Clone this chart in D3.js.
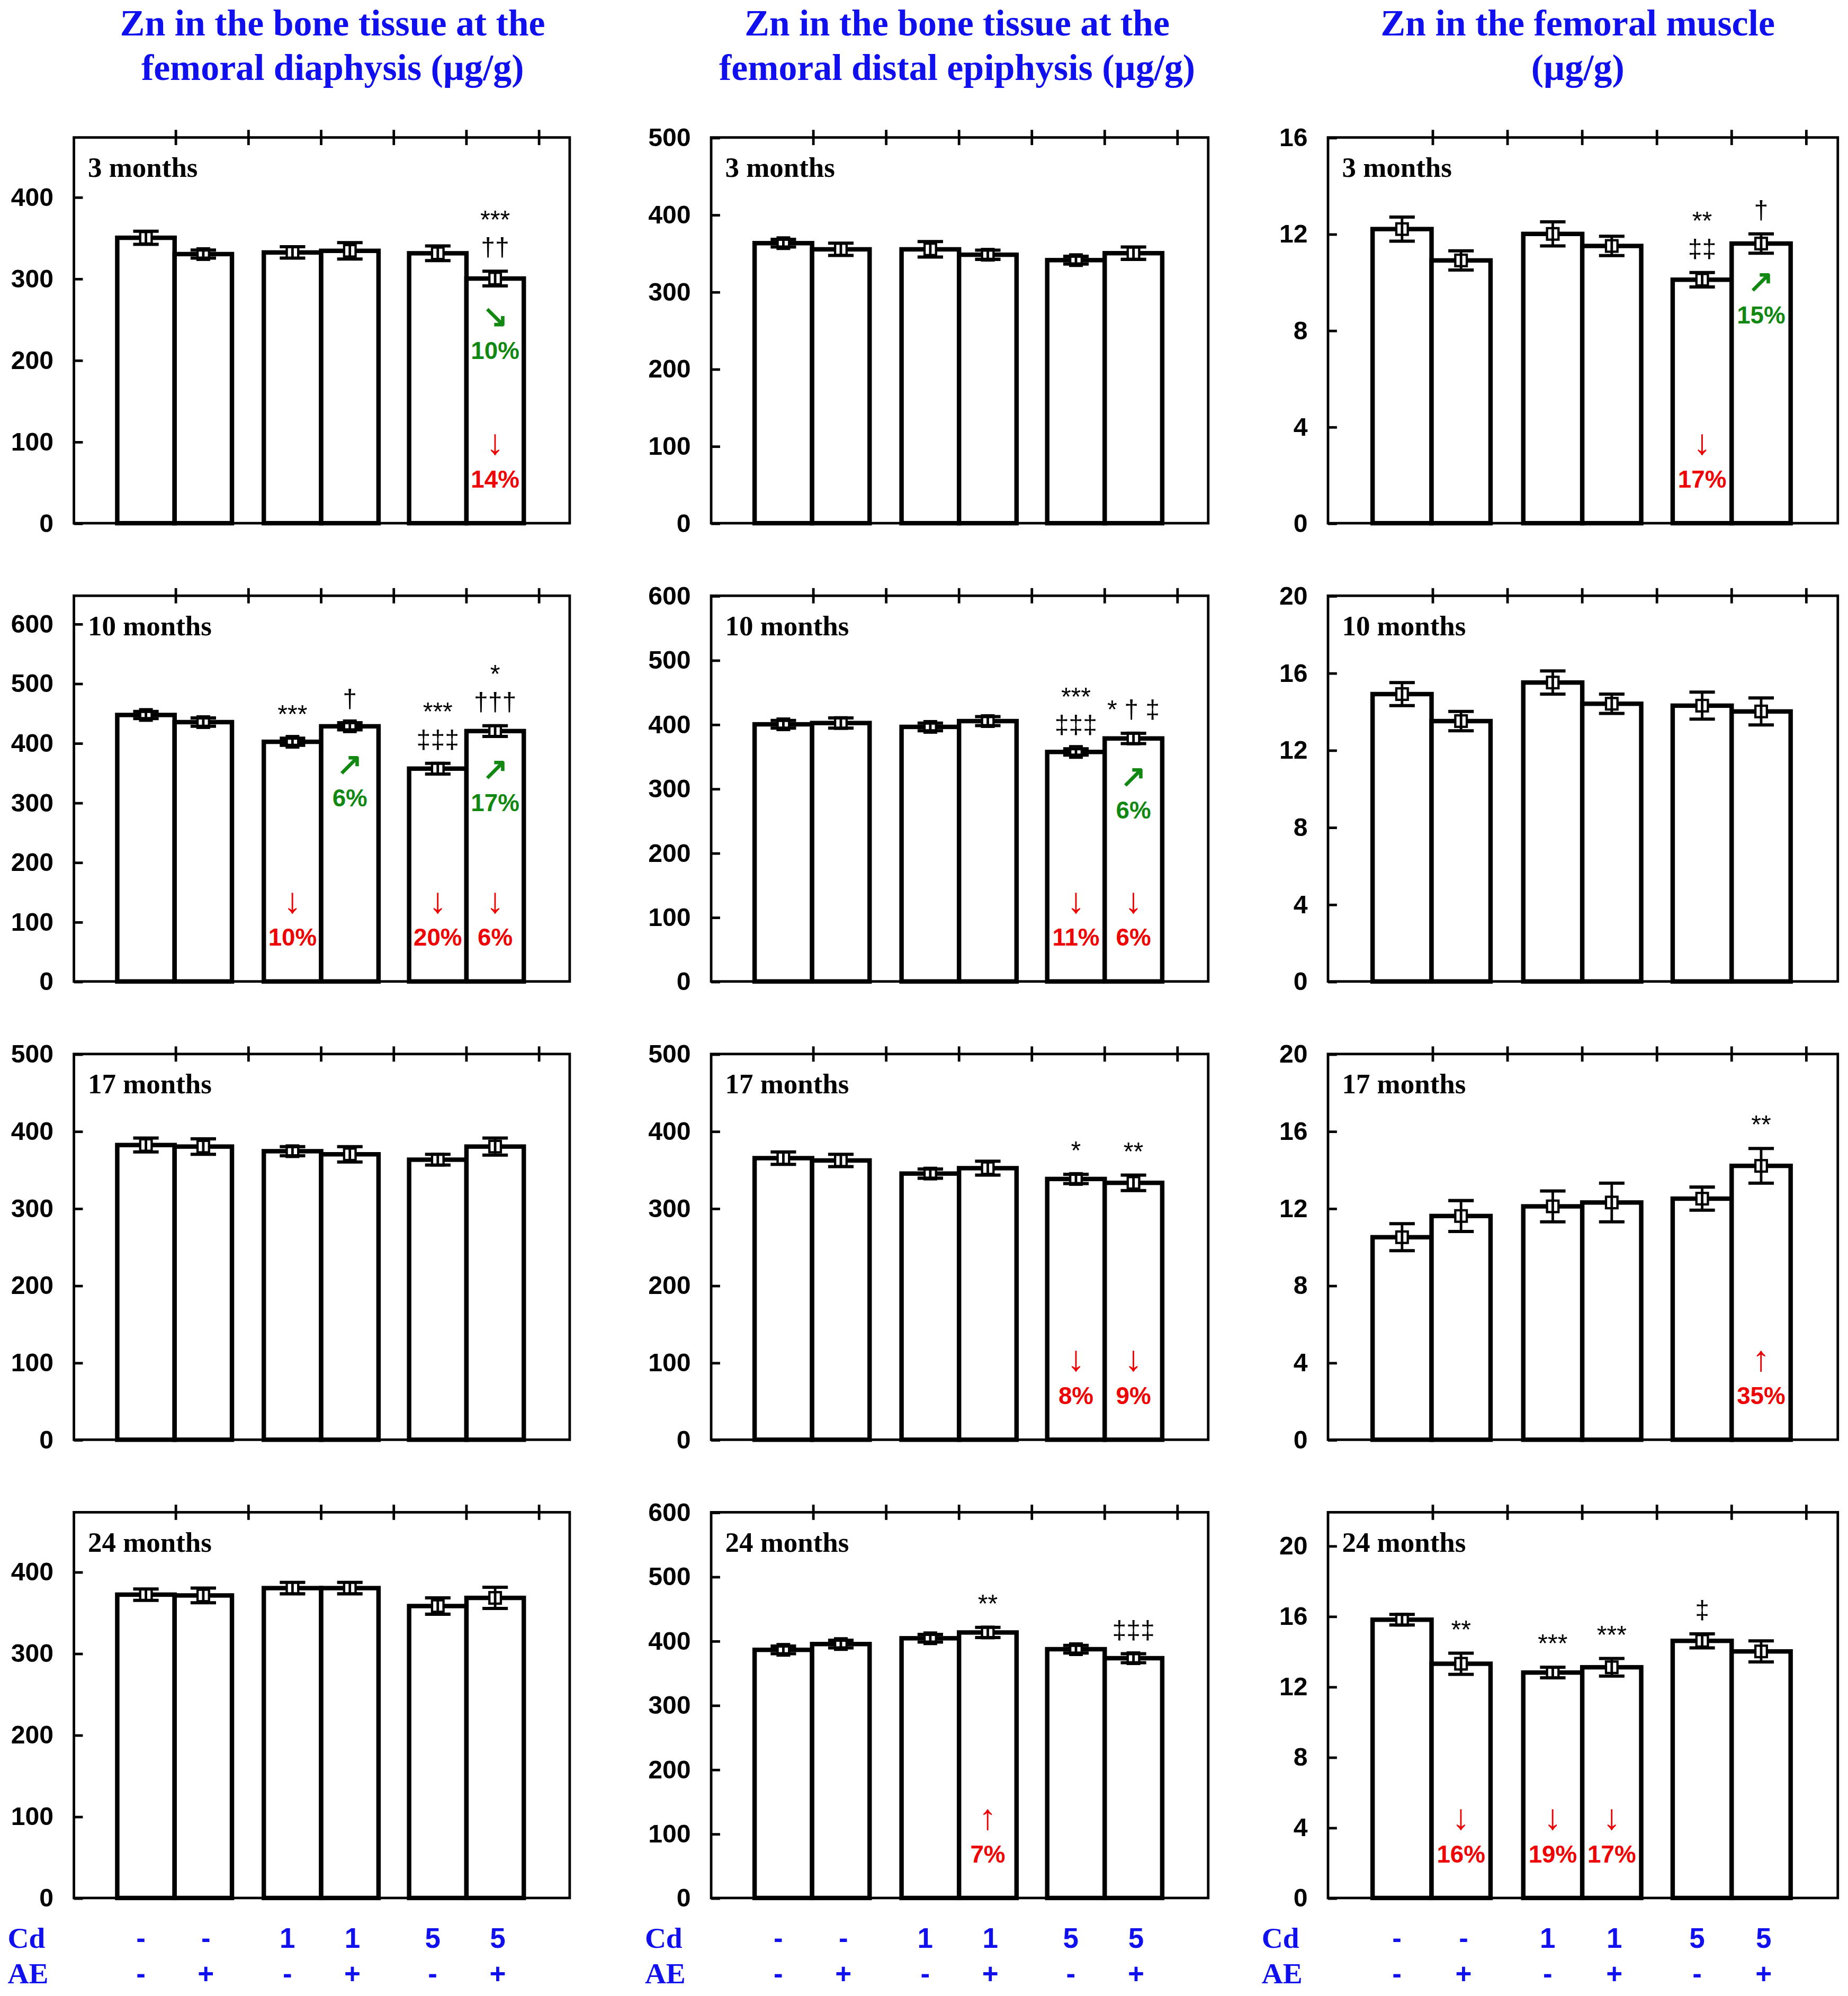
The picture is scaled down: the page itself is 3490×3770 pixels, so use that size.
<!DOCTYPE html>
<html><head><meta charset="utf-8">
<script src="https://cdn.jsdelivr.net/npm/d3@7"></script>
<style>body{margin:0;background:#fff}</style></head>
<body><svg id="c"></svg>
<script>
const titles = [["Zn in the bone tissue at the","femoral diaphysis (µg/g)"],["Zn in the bone tissue at the","femoral distal epiphysis (µg/g)"],["Zn in the femoral muscle","(µg/g)"]];
const rowLabels = ["3 months","10 months","17 months","24 months"];
const cdLabels = ["-","-","1","1","5","5"];
const aeLabels = ["-","+","-","+","-","+"];
// values[col][row]
const values = [
 [[350,330,332,334,331,300],[447,435,402,428,357,420],[382,380,374,370,363,380],[372,371,380,380,358,368]],
 [[363,355,355,348,341,350],[400,402,396,405,357,378],[365,362,345,352,338,333],[386,395,404,413,387,373]],
 [[12.2,10.9,12.0,11.5,10.1,11.6],[14.9,13.5,15.5,14.4,14.3,14.0],[10.5,11.6,12.1,12.3,12.5,14.2],[15.8,13.3,12.8,13.1,14.6,14.0]]
];
const errors = [
 [[8,5,7,10,9,9],[6,7,6,6,9,9],[9,10,6,10,7,11],[7,9,7,7,10,13]],
 [[5,8,10,6,5,8],[6,8,6,7,5,8],[8,8,6,9,6,10],[6,6,6,8,6,7]],
 [[0.5,0.4,0.5,0.4,0.3,0.4],[0.6,0.5,0.6,0.5,0.7,0.7],[0.7,0.8,0.8,1.0,0.6,0.9],[0.3,0.6,0.3,0.5,0.4,0.6]]
];
const yMax = [[473,647,500,473],[500,600,500,600],[16,20,20,21.9]];
const yTicks = [
 [[0,100,200,300,400],[0,100,200,300,400,500,600],[0,100,200,300,400,500],[0,100,200,300,400]],
 [[0,100,200,300,400,500],[0,100,200,300,400,500,600],[0,100,200,300,400,500],[0,100,200,300,400,500,600]],
 [[0,4,8,12,16],[0,4,8,12,16,20],[0,4,8,12,16,20],[0,4,8,12,16,20]]
];
// annotations: [col,row,bar,signif lines, green pct, red arrow, red pct]
const notes = [
 [0,0,5,["***","††"],"10%","↓","14%"],
 [0,1,2,["***"],null,"↓","10%"],
 [0,1,3,["†"],"6%",null,null],
 [0,1,4,["***","‡‡‡"],null,"↓","20%"],
 [0,1,5,["*","†††"],"17%","↓","6%"],
 [1,1,4,["***","‡‡‡"],null,"↓","11%"],
 [1,1,5,["* † ‡"],"6%","↓","6%"],
 [1,2,4,["*"],null,"↓","8%"],
 [1,2,5,["**"],null,"↓","9%"],
 [1,3,3,["**"],null,"↑","7%"],
 [1,3,5,["‡‡‡"],null,null,null],
 [2,0,4,["**","‡‡"],null,"↓","17%"],
 [2,0,5,["†"],"15%",null,null],
 [2,2,5,["**"],null,"↑","35%"],
 [2,3,1,["**"],null,"↓","16%"],
 [2,3,2,["***"],null,"↓","19%"],
 [2,3,3,["***"],null,"↓","17%"],
 [2,3,4,["‡"],null,null,null]
];
const greenArrow = {"10%":"↘"};

const W=1450,H=1568;
const svg=d3.select("#c").attr("width",3490).attr("height",3770).attr("viewBox",`0 0 ${W} ${H}`).attr("preserveAspectRatio","none");
const colX=[[58,447],[558,948],[1042,1442]];
const rowY=[[108,411],[468,771],[828,1131],[1188,1491]];
const barOff=[34,79,149,194,263,308], barW=45;
const blue="#1010ee", serif="Liberation Serif, Times New Roman, serif", sans="Liberation Sans, Arial, sans-serif";

titles.forEach((t,c)=>{
  const cx=[261,751,1238][c];
  t.forEach((l,i)=>svg.append("text").attr("x",cx).attr("y",28+i*35).attr("text-anchor","middle")
    .attr("font-family",serif).attr("font-weight","bold").attr("font-size",29).attr("fill",blue).text(l));
});

for(let c=0;c<3;c++)for(let r=0;r<4;r++){
  const [x0,x1]=colX[c],[y0,y1]=rowY[r];
  const sc=(x1-x0)/389;
  const y=d3.scaleLinear().domain([0,yMax[c][r]]).range([y1,y0]);
  const x=d3.scaleLinear().domain([0,389]).range([x0,x0+389*sc]);
  const g=svg.append("g");
  g.append("rect").attr("x",x0).attr("y",y0).attr("width",x1-x0).attr("height",y1-y0).attr("fill","none").attr("stroke","#000").attr("stroke-width",2);
  [80,137,194,251,308,365].forEach(t=>g.append("line").attr("x1",x(t)).attr("x2",x(t)).attr("y1",y0-6).attr("y2",y0+6).attr("stroke","#000").attr("stroke-width",2));
  const ax=d3.axisLeft(y).tickValues(yTicks[c][r]).tickSize(-7).tickPadding(16).tickFormat(d3.format("d"));
  const a=g.append("g").attr("transform",`translate(${x0},0)`).call(ax);
  a.select(".domain").remove();
  a.selectAll("line").attr("stroke-width",2);
  a.selectAll("text").attr("font-family",sans).attr("font-weight","bold").attr("font-size",20).attr("fill","#000");
  g.append("text").attr("x",x0+11).attr("y",y0+31).attr("font-family",serif).attr("font-weight","bold").attr("font-size",22).text(rowLabels[r]);
  values[c][r].forEach((v,i)=>{
    const bx=x(barOff[i]), bw=barW*sc, cx=bx+bw/2, e=errors[c][r][i];
    g.append("rect").attr("x",bx).attr("y",y(v)).attr("width",bw).attr("height",y1-y(v)).attr("fill","#fff").attr("stroke","#000").attr("stroke-width",3.5);
    g.append("rect").attr("x",cx-4.5).attr("y",y(v)-4.5).attr("width",9).attr("height",9).attr("fill","#fff").attr("stroke","#000").attr("stroke-width",1.8);
    g.append("line").attr("x1",cx).attr("x2",cx).attr("y1",y(v+e)).attr("y2",y(v-e)).attr("stroke","#000").attr("stroke-width",2);
    [v+e,v-e].forEach(q=>g.append("line").attr("x1",cx-10).attr("x2",cx+10).attr("y1",y(q)).attr("y2",y(q)).attr("stroke","#000").attr("stroke-width",2.5));
  });
  notes.filter(n=>n[0]===c&&n[1]===r).forEach(n=>{
    const i=n[2], v=values[c][r][i], e=errors[c][r][i];
    const cx=x(barOff[i])+barW*sc/2;
    const top=y(v+e)-12;
    n[3].slice().reverse().forEach((s,k)=>g.append("text").attr("x",cx).attr("y",top-k*22).attr("text-anchor","middle")
      .attr("font-family",sans).attr("font-size",20).attr("fill","#000").text(s));
    if(n[4]){
      const gy=y(v);
      g.append("text").attr("x",cx).attr("y",gy+38).attr("text-anchor","middle").attr("font-family",sans).attr("font-weight","bold").attr("font-size",24).attr("fill","#118811").text(greenArrow[n[4]]||"↗");
      g.append("text").attr("x",cx).attr("y",gy+63).attr("text-anchor","middle").attr("font-family",sans).attr("font-weight","bold").attr("font-size",19).attr("fill","#118811").text(n[4]);
    }
    if(n[5]){
      g.append("text").attr("x",cx).attr("y",y1-54).attr("text-anchor","middle").attr("font-family",sans).attr("font-weight","bold").attr("font-size",28).attr("fill","#ee0000").text(n[5]);
      g.append("text").attr("x",cx).attr("y",y1-28).attr("text-anchor","middle").attr("font-family",sans).attr("font-weight","bold").attr("font-size",19).attr("fill","#ee0000").text(n[6]);
    }
  });
  if(r===3){
    [["Cd",cdLabels,1530],["AE",aeLabels,1558]].forEach(([lab,arr,yy])=>{
      svg.append("text").attr("x",x0-52).attr("y",yy).attr("font-family",serif).attr("font-weight","bold").attr("font-size",23).attr("fill",blue).text(lab);
      arr.forEach((s,i)=>svg.append("text").attr("x",x(barOff[i])+barW*sc/2+(i%2?2:-4)).attr("y",yy).attr("text-anchor","middle")
        .attr("font-family",sans).attr("font-weight","bold").attr("font-size",22).attr("fill",blue).text(s));
    });
  }
}
</script></body></html>
